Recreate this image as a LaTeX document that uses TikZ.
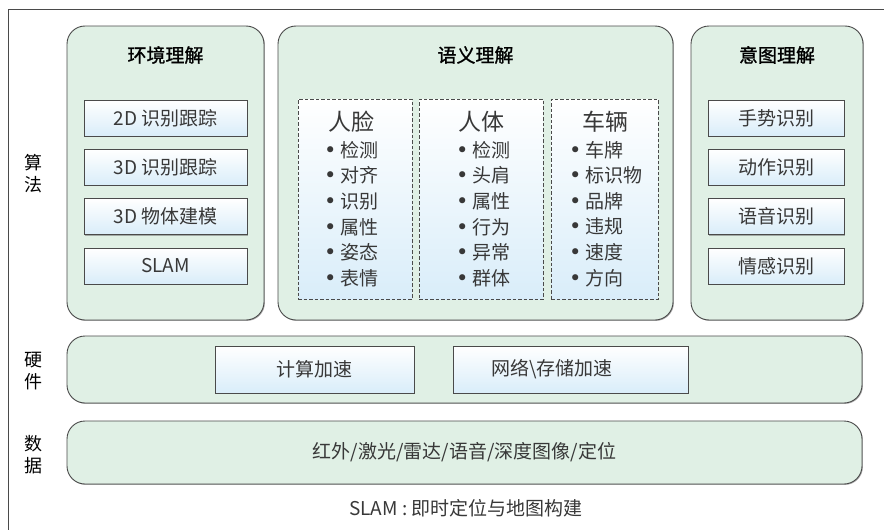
\documentclass[tikz,border=0pt]{standalone}
\usepackage{fontspec}
\setmainfont{Noto Sans CJK SC}
\newfontfamily\titlefont[FakeBold=1.2]{Noto Sans CJK SC}
\newfontfamily\bulletfont{DejaVu Sans}
\newcommand\bul{{\bulletfont\fontsize{21}{22}\selectfont •}\hspace{4pt}}
\usetikzlibrary{shadows}
\definecolor{panelgreen}{HTML}{E0F0E5}
\definecolor{boxblue}{HTML}{D9EDF9}
\definecolor{edge}{HTML}{4A4A4A}
\definecolor{txt}{HTML}{383838}
\begin{document}
\begin{tikzpicture}[x=1pt,y=-1pt,
  panel/.style={draw=edge, line width=0.9pt, fill=panelgreen, rounded corners=18pt, inner sep=0pt,
    drop shadow={shadow xshift=0.9pt, shadow yshift=-0.9pt, opacity=0.55, fill=black!60}},
  itembox/.style={draw=edge, line width=0.8pt, top color=white, bottom color=boxblue, inner sep=0pt,
    minimum height=36pt, text=txt, font=\fontsize{19}{22}\selectfont,
    drop shadow={shadow xshift=0.7pt, shadow yshift=-0.9pt, opacity=0.5, fill=black!60}},
  dashbox/.style={draw=edge, line width=0.9pt, dash pattern=on 3.5pt off 2pt, top color=white, bottom color=boxblue,
    inner sep=0pt, minimum height=200pt},
  titletext/.style={font=\titlefont\fontsize{19}{22}\selectfont, text=black},
  headtext/.style={font=\fontsize{23}{26}\selectfont, text=txt},
  itemtext/.style={font=\fontsize{19}{22}\selectfont, text=txt, anchor=west, inner sep=0pt},
  sidetext/.style={font=\fontsize{18}{22}\selectfont, text=black, align=center},
  plaintext/.style={font=\fontsize{19}{22}\selectfont, text=txt}
]
\useasboundingbox (0,0) rectangle (884,530);
% outer frame (top and left lines)
\draw[edge, line width=1pt] (8,530) -- (8,9) -- (884,9);

% side labels
\node[sidetext] (lalg) at (33,174) {算\\法};
\node[sidetext] (lhw) at (33,371) {硬\\件};
\node[sidetext] (ldata) at (33,455) {数\\据};

% panels
\node[panel, minimum width=197pt, minimum height=294pt] (env) at (165.5,173) {};
\node[panel, minimum width=395pt, minimum height=294pt] (sem) at (475.5,173) {};
\node[panel, minimum width=172pt, minimum height=294pt] (int) at (777,173) {};
\node[panel, minimum width=795pt, minimum height=67pt] (hw) at (464.5,369.5) {};
\node[panel, minimum width=795pt, minimum height=63pt] (data) at (464.5,452.5) {};

% titles
\node[titletext] (tenv) at (165.5,55) {环境理解};
\node[titletext] (tsem) at (475.5,55) {语义理解};
\node[titletext] (tint) at (777,55) {意图理解};

% environment boxes
\node[itembox, minimum width=163pt] (e1) at (165.5,118) {2D 识别跟踪};
\node[itembox, minimum width=163pt] (e2) at (165.5,167.3) {3D 识别跟踪};
\node[itembox, minimum width=163pt] (e3) at (165.5,216.7) {3D 物体建模};
\node[itembox, minimum width=163pt] (e4) at (165.5,266) {SLAM};

% intention boxes
\node[itembox, minimum width=136pt] (i1) at (776,118) {手势识别};
\node[itembox, minimum width=136pt] (i2) at (776,167.3) {动作识别};
\node[itembox, minimum width=136pt] (i3) at (776,216.7) {语音识别};
\node[itembox, minimum width=136pt] (i4) at (776,266) {情感识别};

% semantic dashed boxes
\node[dashbox, minimum width=114pt] (dface) at (355,199) {};
\node[dashbox, minimum width=124pt] (dbody) at (481,199) {};
\node[dashbox, minimum width=107pt] (dcar) at (604.5,199) {};

\node[headtext] (hface) at (351,122) {人脸};
\node[headtext] (hbody) at (481,122) {人体};
\node[headtext] (hcar) at (605,122) {车辆};

\node[itemtext] (f1) at (324,150) {\bul 检测};
\node[itemtext] (f2) at (324,175.6) {\bul 对齐};
\node[itemtext] (f3) at (324,201.2) {\bul 识别};
\node[itemtext] (f4) at (324,226.8) {\bul 属性};
\node[itemtext] (f5) at (324,252.4) {\bul 姿态};
\node[itemtext] (f6) at (324,278) {\bul 表情};

\node[itemtext] (b1) at (456,150) {\bul 检测};
\node[itemtext] (b2) at (456,175.6) {\bul 头肩};
\node[itemtext] (b3) at (456,201.2) {\bul 属性};
\node[itemtext] (b4) at (456,226.8) {\bul 行为};
\node[itemtext] (b5) at (456,252.4) {\bul 异常};
\node[itemtext] (b6) at (456,278) {\bul 群体};

\node[itemtext] (v1) at (569,150) {\bul 车牌};
\node[itemtext] (v2) at (569,175.6) {\bul 标识物};
\node[itemtext] (v3) at (569,201.2) {\bul 品牌};
\node[itemtext] (v4) at (569,226.8) {\bul 违规};
\node[itemtext] (v5) at (569,252.4) {\bul 速度};
\node[itemtext] (v6) at (569,278) {\bul 方向};

% hardware boxes
\node[itembox, minimum width=199pt, minimum height=47pt] (h1) at (314.5,369.5) {};
\node[plaintext] (h1t) at (314.5,369.5) {计算加速};
\node[itembox, minimum width=235pt, minimum height=47pt] (h2) at (570.5,369.5) {};
\node[plaintext] (h2t) at (552,369.5) {网络\textbackslash 存储加速};

% data text
\node[plaintext] (dt) at (464.5,452.5) {红外/激光/雷达/语音/深度图像/定位};

% caption
\node[plaintext] (cap) at (466,508) {SLAM : 即时定位与地图构建};
\end{tikzpicture}
\end{document}
